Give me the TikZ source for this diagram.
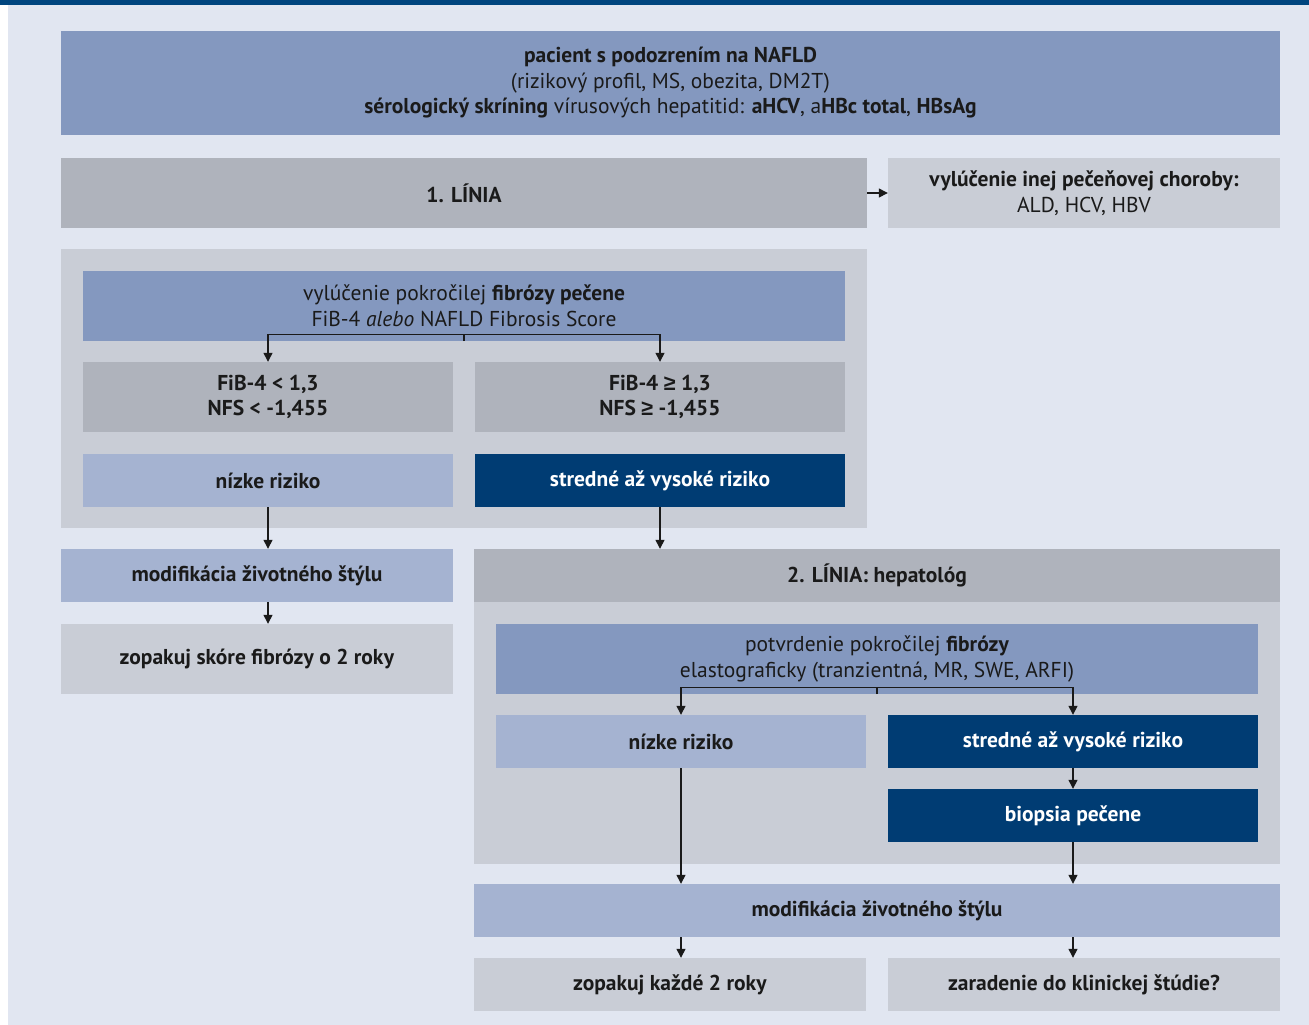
\documentclass[tikz,border=0pt]{standalone}
\usepackage{fontspec}
\setmainfont{PT Sans}
\newfontfamily\symfont{Liberation Sans}
\usetikzlibrary{arrows.meta}
\definecolor{bgc}{RGB}{225,230,241}
\definecolor{barc}{RGB}{0,69,127}
\definecolor{darkb}{RGB}{0,60,115}
\definecolor{midb}{RGB}{132,152,191}
\definecolor{lightb}{RGB}{165,179,209}
\definecolor{darkg}{RGB}{175,179,188}
\definecolor{lightg}{RGB}{201,205,214}
\definecolor{txt}{RGB}{26,26,26}
\newcommand{\gee}{{\symfont\bfseries ≥}}
\tikzset{
  box/.style={draw=none, inner sep=0pt, align=center, text=txt,
    font=\fontsize{21.5}{25.5}\selectfont},
  arr/.style={line width=1.3pt, draw=txt, -{Triangle[length=9pt,width=9pt]}},
  ln/.style={line width=1.3pt, draw=txt},
}
\begin{document}
\begin{tikzpicture}[x=1pt,y=-1pt]
\useasboundingbox (0,0) rectangle (1309,1025);
\fill[bgc] (8,5) rectangle (1309,1025);
\fill[barc] (0,0) rectangle (1309,5);
% panels
\node[box, fill=lightg, minimum width=806pt, minimum height=279pt] (panel1) at (464,388.5) {};
\node[box, fill=lightg, minimum width=806pt, minimum height=315pt] (panel2) at (877,706.5) {};
% nodes
\node[box, fill=midb, minimum width=1219pt, minimum height=104pt] (top) at (670.5,83)
  {\textbf{pacient s podozrením na NAFLD}\\(rizikový profil, MS, obezita, DM2T)\\\textbf{sérologický skríning} vírusových hepatitid: \textbf{aHCV}, a\textbf{HBc total}, \textbf{HBsAg}};
\node[box, fill=darkg, minimum width=806pt, minimum height=70pt] (l1) at (464,193) {\textbf{1. LÍNIA}};
\node[box, fill=lightg, minimum width=392pt, minimum height=70pt] (excl) at (1084,193)
  {\textbf{vylúčenie inej pečeňovej choroby:}\\ALD, HCV, HBV};
\node[box, fill=midb, minimum width=762pt, minimum height=70pt] (vyl) at (464,306)
  {vylúčenie pokročilej \textbf{fibrózy pečene}\\FiB-4 \textit{alebo} NAFLD Fibrosis Score};
\node[box, fill=darkg, minimum width=370pt, minimum height=70pt] (fib1) at (268,397)
  {\textbf{FiB-4 < 1,3}\\\textbf{NFS < -1,455}};
\node[box, fill=darkg, minimum width=370pt, minimum height=70pt] (fib2) at (660,397)
  {\textbf{FiB-4 \gee{} 1,3}\\\textbf{NFS \gee{} -1,455}};
\node[box, fill=lightb, minimum width=370pt, minimum height=53pt] (low1) at (268,480.5) {\textbf{nízke riziko}};
\node[box, fill=darkb, text=white, minimum width=370pt, minimum height=53pt] (high1) at (660,480.5) {\textbf{stredné až vysoké riziko}};
\node[box, fill=lightb, minimum width=392pt, minimum height=53pt] (mod1) at (257,575.5) {\textbf{modifikácia životného štýlu}};
\node[box, fill=lightg, minimum width=392pt, minimum height=70pt] (rep1) at (257,659) {\textbf{zopakuj skóre fibrózy o 2 roky}};
\node[box, fill=darkg, minimum width=806pt, minimum height=53pt] (l2) at (877,575.5) {\textbf{2. LÍNIA: hepatológ}};
\node[box, fill=midb, minimum width=762pt, minimum height=70pt] (conf) at (877,659)
  {potvrdenie pokročilej \textbf{fibrózy}\\elastograficky (tranzientná, MR, SWE, ARFI)};
\node[box, fill=lightb, minimum width=370pt, minimum height=53pt] (low2) at (681,741.5) {\textbf{nízke riziko}};
\node[box, fill=darkb, text=white, minimum width=370pt, minimum height=53pt] (high2) at (1073,741.5) {\textbf{stredné až vysoké riziko}};
\node[box, fill=darkb, text=white, minimum width=370pt, minimum height=53pt] (bio) at (1073,815.5) {\textbf{biopsia pečene}};
\node[box, fill=lightb, minimum width=806pt, minimum height=53pt] (mod2) at (877,910.5) {\textbf{modifikácia životného štýlu}};
\node[box, fill=lightg, minimum width=392pt, minimum height=53pt] (rep2) at (670,984.5) {\textbf{zopakuj každé 2 roky}};
\node[box, fill=lightg, minimum width=392pt, minimum height=53pt] (clin) at (1084,984.5) {\textbf{zaradenie do klinickej štúdie?}};
% connectors
\draw[arr] (l1.east) -- (excl.west);
\coordinate (f1) at ([yshift=7pt]vyl.south);
\draw[ln] (vyl.south) -- (f1);
\draw[arr] (f1) -| (fib1.north);
\draw[arr] (f1) -| (fib2.north);
\draw[arr] (low1.south) -- (low1.south |- mod1.north);
\draw[arr] (low1.south |- mod1.south) -- (low1.south |- rep1.north);
\draw[arr] (high1.south) -- (high1.south |- l2.north);
\coordinate (f2) at ([yshift=7pt]conf.south);
\draw[ln] (conf.south) -- (f2);
\draw[arr] (f2) -| (low2.north);
\draw[arr] (f2) -| (high2.north);
\draw[arr] (high2.south) -- (bio.north);
\draw[arr] (low2.south) -- (low2.south |- mod2.north);
\draw[arr] (bio.south) -- (bio.south |- mod2.north);
\draw[arr] (low2.south |- mod2.south) -- (low2.south |- rep2.north);
\draw[arr] (bio.south |- mod2.south) -- (bio.south |- clin.north);
\end{tikzpicture}
\end{document}
